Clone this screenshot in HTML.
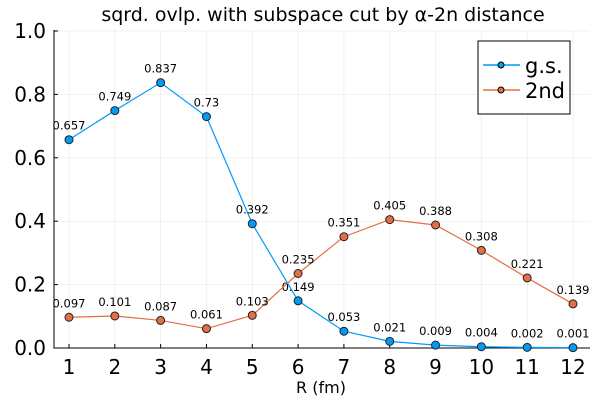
<!DOCTYPE html>
<html><head><meta charset="utf-8"><style>
body{margin:0;background:#fff}
svg{font-family:"DejaVu Sans","Liberation Sans",sans-serif}
</style></head><body>
<svg id="chart" width="600" height="400" viewBox="0 0 600 400" xmlns="http://www.w3.org/2000/svg">
<text x="323" y="21" font-size="19" text-anchor="middle">sqrd. ovlp. with subspace cut by α-2n distance</text>
<g id="grid"></g>
<g id="axes"></g>
<g id="series"></g>
<text x="321" y="393" font-size="16" text-anchor="middle">R (fm)</text>
<g>
<rect x="478" y="41" width="92" height="73" fill="#fff" stroke="#000" stroke-width="1"/>
<g>
<line x1="483" y1="65" x2="520" y2="65" stroke="#009af9" stroke-width="1.5"/>
<circle cx="501" cy="65" r="3" fill="#009af9" stroke="#000" stroke-width="1"/>
<text x="525" y="73" font-size="21">g.s.</text></g>
<g>
<line x1="483" y1="90" x2="520" y2="90" stroke="#e26f46" stroke-width="1.5"/>
<circle cx="501" cy="90" r="3" fill="#e26f46" stroke="#000" stroke-width="1"/>
<text x="525" y="98" font-size="21">2nd</text></g>
</g>
</svg>
<script>
const categories=[1,2,3,4,5,6,7,8,9,10,11,12];
const gsValues=[0.657,0.749,0.837,0.73,0.392,0.149,0.053,0.021,0.009,0.004,0.002,0.001];
const secondValues=[0.097,0.101,0.087,0.061,0.103,0.235,0.351,0.405,0.388,0.308,0.221,0.139];
const yTicks=[0,0.2,0.4,0.6,0.8,1.0];
const yTickLabels=["0.0","0.2","0.4","0.6","0.8","1.0"];
const NS="http://www.w3.org/2000/svg";
const xs=v=>69+(v-1)*(573-69)/11;
const ys=v=>348-v*317;
function mk(t,a,p){const e=document.createElementNS(NS,t);for(const k in a)e.setAttribute(k,a[k]);p.appendChild(e);return e;}
const grid=document.getElementById('grid'),axes=document.getElementById('axes'),ser=document.getElementById('series');
categories.forEach(c=>{
 const g=mk('line',{x1:xs(c),x2:xs(c),y1:30,y2:348,stroke:'#000','stroke-opacity':0.1,'stroke-width':0.5},grid);
 
 
 mk('line',{x1:xs(c),x2:xs(c),y1:348,y2:344,stroke:'#000','stroke-width':1},axes);
 const t=mk('text',{x:xs(c),y:374,'font-size':20,'text-anchor':'middle'},axes);t.textContent=c;
 
 
});
yTicks.forEach((v,i)=>{
 const g=mk('line',{x1:54,x2:590,y1:ys(v),y2:ys(v),stroke:'#000','stroke-opacity':0.1,'stroke-width':0.5},grid);
 
 
 mk('line',{x1:54,x2:58,y1:ys(v),y2:ys(v),stroke:'#000','stroke-width':1},axes);
 const t=mk('text',{x:46,y:ys(v)+7,'font-size':20,'text-anchor':'end'},axes);t.textContent=yTickLabels[i];
 
 
});
const ax=mk('path',{d:'M54,30V348H590',fill:'none',stroke:'#000','stroke-width':1},axes);


function series(vals,color,name){
 const p=mk('polyline',{points:vals.map((v,i)=>xs(categories[i])+','+ys(v)).join(' '),fill:'none',stroke:color,'stroke-width':1.2},ser);
 
 
 vals.forEach((v,i)=>{
  const c=mk('circle',{cx:xs(categories[i]),cy:ys(v),r:4,fill:color,stroke:'#222','stroke-width':1},ser);
  
  
  const t=mk('text',{x:xs(categories[i]),y:ys(v)-10,'font-size':11.5,'text-anchor':'middle'},ser);
  t.textContent=String(v);
  
  
 });
}
series(gsValues,'#009af9','gs');
series(secondValues,'#e26f46','second');
</script>
</body></html>
